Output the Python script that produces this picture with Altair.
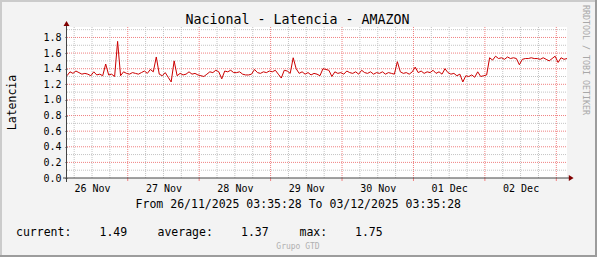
import json
import altair as alt
import pandas as pd
import numpy as np

# ---------------- data ----------------
title_text = "Nacional - Latencia - AMAZON"
y_title = "Latencia"
period_text = "From 26/11/2025 03:35:28 To 03/12/2025 03:35:28"
legend_labels = ["current:", "average:", "max:"]
legend_values = ["1.49", "1.37", "1.75"]
footer_text = "Grupo GTD"
side_text = "RRDTOOL / TOBI OETIKER"
day_labels = ["26 Nov", "27 Nov", "28 Nov", "29 Nov", "30 Nov", "01 Dec", "02 Dec"]
y_tick_values = [0.0, 0.2, 0.4, 0.6, 0.8, 1.0, 1.2, 1.4, 1.6, 1.8]

# hourly latency samples, starting 26/11/2025 03:35:28
latency = [
    1.31, 1.36, 1.34, 1.37, 1.35, 1.33, 1.34, 1.33, 1.31, 1.36,
    1.32, 1.33, 1.31, 1.46, 1.32, 1.33, 1.30, 1.75, 1.31, 1.36,
    1.34, 1.33, 1.35, 1.34, 1.33, 1.35, 1.37, 1.34, 1.39, 1.36,
    1.55, 1.33, 1.31, 1.35, 1.29, 1.23, 1.50, 1.31, 1.34, 1.32,
    1.33, 1.36, 1.33, 1.34, 1.32, 1.31, 1.30, 1.33, 1.36, 1.35,
    1.38, 1.36, 1.27, 1.37, 1.36, 1.38, 1.35, 1.35, 1.36, 1.33,
    1.32, 1.32, 1.33, 1.39, 1.35, 1.34, 1.36, 1.35, 1.37, 1.36,
    1.38, 1.33, 1.28, 1.38, 1.37, 1.34, 1.54, 1.40, 1.34, 1.36,
    1.33, 1.35, 1.32, 1.34, 1.33, 1.31, 1.40, 1.39, 1.38, 1.30,
    1.36, 1.34, 1.35, 1.33, 1.37, 1.35, 1.34, 1.36, 1.33, 1.38,
    1.35, 1.34, 1.36, 1.33, 1.35, 1.34, 1.36, 1.33, 1.35, 1.34,
    1.33, 1.49, 1.36, 1.34, 1.35, 1.33, 1.36, 1.42, 1.35, 1.37,
    1.34, 1.36, 1.35, 1.38, 1.34, 1.36, 1.33, 1.40, 1.35, 1.33,
    1.34, 1.31, 1.33, 1.23, 1.31, 1.30, 1.32, 1.29, 1.36, 1.30,
    1.31, 1.32, 1.54, 1.51, 1.56, 1.53, 1.54, 1.52, 1.55, 1.53,
    1.54, 1.53, 1.45, 1.52, 1.53, 1.53, 1.54, 1.53, 1.53, 1.52,
    1.54, 1.52, 1.50, 1.53, 1.56, 1.48, 1.54, 1.52, 1.53,
]
hours = list(range(len(latency)))

# ---------------- layout / style ----------------
FONT = "DejaVu Sans Mono"
W, H = 500, 151
PAD_L, PAD_T = 67, 27
TOTAL_W, TOTAL_H = 597, 257
LINE_COLOR = "#cc0000"
GRID_COLOR = "#c4c4c4"
MGRID_COLOR = "#f08080"
AXIS_COLOR = "#444444"
ARROW_COLOR = "#800000"

start_offset = 3 + 35 / 60 + 28 / 3600  # hours after midnight of the first day
span = 168
xscale = alt.Scale(domain=[0, span], nice=False, zero=False)
yscale = alt.Scale(domain=[0, 1.934], nice=False, zero=True)
kind_scale = alt.Scale(domain=["minor", "major"], range=[GRID_COLOR, MGRID_COLOR])

six_h = [6 * j - start_offset for j in range(1, 29) if 6 * j - start_offset < span]
vgrid = pd.DataFrame({
    "h": six_h,
    "kind": ["major" if j % 4 == 0 else "minor" for j in range(1, len(six_h) + 1)],
})
tenth = [round(0.1 * k, 2) for k in range(1, 20)]
hgrid = pd.DataFrame({
    "v": tenth,
    "kind": ["major" if k % 2 == 0 else "minor" for k in range(1, 20)],
})
noon_x = [12 - start_offset + 24 * k for k in range(len(day_labels))]

label_expr = f"{json.dumps(day_labels)}[round((datum.value - {12 - start_offset:.6f}) / 24)]"

x_axis = alt.Axis(
    values=noon_x, labelExpr=label_expr, title=None, grid=False, domain=False,
    ticks=False, tickSize=0, labelPadding=13, labelBaseline="alphabetic",
    labelAlign="center", labelFont=FONT, labelFontSize=10, labelColor="#000000",
    labelOverlap=False, labelFlush=False)
y_axis = alt.Axis(
    values=y_tick_values, format=".1f", title=None, grid=False, domain=False,
    ticks=True, tickSize=2, tickColor=AXIS_COLOR, labelPadding=4,
    labelFont=FONT, labelFontSize=10, labelColor="#000000",
    labelBaseline="middle", labelOverlap=False)

df = pd.DataFrame({"h": hours, "v": latency})

vrules = alt.Chart(vgrid).mark_rule(strokeDash=[1, 1], strokeWidth=1).encode(
    x=alt.X("h:Q", scale=xscale, axis=x_axis),
    y=alt.value(0), y2=alt.value(H),
    color=alt.Color("kind:N", scale=kind_scale, legend=None),
)
hrules = alt.Chart(hgrid).mark_rule(strokeDash=[1, 1], strokeWidth=1).encode(
    y=alt.Y("v:Q", scale=yscale, axis=y_axis),
    x=alt.value(0), x2=alt.value(W),
    color=alt.Color("kind:N", scale=kind_scale, legend=None),
)
major_ticks = alt.Chart(vgrid).transform_filter(alt.datum.kind == "major").mark_rule(
    strokeWidth=1, color=MGRID_COLOR).encode(
    x=alt.X("h:Q", scale=xscale, axis=x_axis), y=alt.value(H), y2=alt.value(H + 3))

line = alt.Chart(df).mark_line(color=LINE_COLOR, strokeWidth=1, interpolate="linear").encode(
    x=alt.X("h:Q", scale=xscale, axis=x_axis),
    y=alt.Y("v:Q", scale=yscale, axis=y_axis),
)

one = pd.DataFrame({"k": [0]})

def fixed_rule(x, x2, y, y2, color, width):
    return alt.Chart(one).mark_rule(color=color, strokeWidth=width).encode(
        x=alt.value(x), x2=alt.value(x2), y=alt.value(y), y2=alt.value(y2))

axes_lines = [
    fixed_rule(-4, 503, H, H, AXIS_COLOR, 1),
    fixed_rule(-0.5, -0.5, -3, H + 4, AXIS_COLOR, 1),
]

arrows = [
    alt.Chart(one).mark_point(shape="M-1,0.8L0,-0.8L1,0.8Z", filled=True, size=36,
                              color=ARROW_COLOR, opacity=1).encode(
        x=alt.value(-0.5), y=alt.value(-3.5)),
    alt.Chart(one).mark_point(shape="M-0.8,-1L0.8,0L-0.8,1Z", filled=True, size=36,
                              color=ARROW_COLOR, opacity=1).encode(
        x=alt.value(504.2), y=alt.value(H)),
]

frame = [
    fixed_rule(-PAD_L, TOTAL_W - PAD_L, 1 - PAD_T, 1 - PAD_T, "#cbcbcb", 2),
    fixed_rule(1 - PAD_L, 1 - PAD_L, -PAD_T, TOTAL_H - PAD_T, "#cbcbcb", 2),
    fixed_rule(-PAD_L, TOTAL_W - PAD_L, 256 - PAD_T, 256 - PAD_T, "#9c9c9c", 2),
    fixed_rule(596 - PAD_L, 596 - PAD_L, -PAD_T, TOTAL_H - PAD_T, "#9c9c9c", 2),
]

def text_layer(s, x, y, size, align="center", color="#000000", angle=0, baseline="alphabetic"):
    kw = dict(font=FONT, fontSize=size, align=align, baseline=baseline, color=color)
    if angle:
        kw["angle"] = angle
    return alt.Chart(pd.DataFrame({"t": [s]})).mark_text(**kw).encode(
        x=alt.value(x), y=alt.value(y), text="t:N")

texts = [
    text_layer(title_text, 297.5 - PAD_L, 24 - PAD_T, 13.3),
    text_layer(y_title, 16 - PAD_L, 102.5 - PAD_T, 11.5, angle=270),
    text_layer(period_text, 298.3 - PAD_L, 208 - PAD_T, 11.5),
    text_layer(footer_text, 298 - PAD_L, 249 - PAD_T, 8, color="#b0b0b0"),
    text_layer(side_text, 583 - PAD_L, 5 - PAD_T, 8.3, align="left", color="#a8a8a8", angle=90),
]
legend_x = [16, 157.5, 299.5]
value_x = [99.5, 241, 355]
for lab, lx in zip(legend_labels, legend_x):
    texts.append(text_layer(lab, lx - PAD_L, 236 - PAD_T, 11.5, align="left"))
for val, vx in zip(legend_values, value_x):
    texts.append(text_layer(val, vx - PAD_L, 236 - PAD_T, 11.5, align="left"))

chart = alt.layer(*frame, hrules, vrules, major_ticks, line, *axes_lines, *arrows, *texts).properties(
    width=W, height=H,
    autosize=alt.AutoSizeParams(type="none"),
    padding={"left": PAD_L, "top": PAD_T, "right": TOTAL_W - PAD_L - W, "bottom": TOTAL_H - PAD_T - H},
    background="#f3f3f3",
).configure_view(stroke=None, fill="#ffffff")

chart.save("out.html", embed_options={"renderer": "svg", "actions": False})
